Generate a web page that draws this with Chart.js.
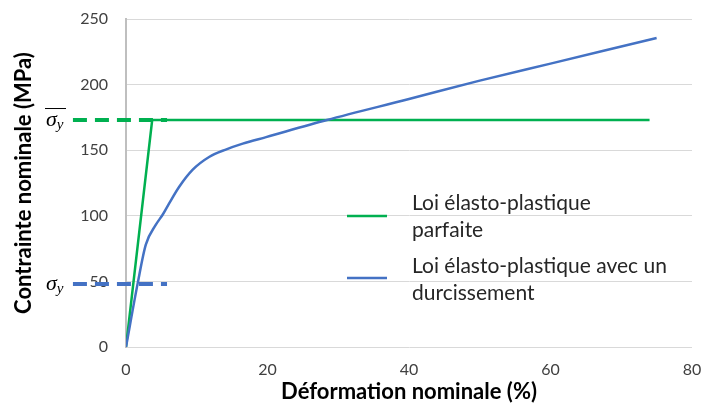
<!DOCTYPE html>
<html><head><meta charset="utf-8">
<script src="https://cdn.jsdelivr.net/npm/chart.js@4/dist/chart.umd.min.js"></script>
<style>html,body{margin:0;padding:0;background:#fff;overflow:hidden;}</style>
</head><body>
<canvas id="c" width="704" height="406" style="display:block;width:704px;height:406px"></canvas>
<script>
// ---- data ----
const xTickStep = 20;
const xRange = [0, 80];
const yTickStep = 50;
const yRange = [0, 250];
const legendLines = [['Loi élasto-plastique', 'parfaite'], ['Loi élasto-plastique avec un', 'durcissement']];
const xTitle = 'Déformation nominale (%)';
const yTitle = 'Contrainte nominale (MPa)';
const perfectX = [0, 3.7, 74];
const perfectY = [0, 173, 173];
const hardX = [0, 1.65, 2.8, 4.2, 5.2, 6.1, 7.5, 9.4, 11.8, 14.1, 16.5, 19.8, 28.4, 40, 50, 60, 75];
const hardY = [0, 48.5, 78, 93, 101, 109.5, 122, 135, 145, 150.5, 155, 160, 173, 189, 203, 216, 235.5];
const sigmaYBar = 173;   // limite élastique (loi parfaite)
const sigmaY = 48;       // limite élastique (loi avec durcissement)
const refLineX = [-7.5, 5.8];
const colors = ['#00b050', '#4472c4'];

const zip = (xs, ys) => xs.map((x, i) => ({x, y: ys[i]}));

const sigmaPlugin = {
  id: 'sigmaLabels',
  afterDatasetsDraw(chart) {
    const ctx = chart.ctx, y = chart.scales.y;
    const draw = (val, bar) => {
      const p = y.getPixelForValue(val);
      ctx.save();
      ctx.fillStyle = '#000';
      ctx.textBaseline = 'alphabetic';
      ctx.textAlign = 'left';
      ctx.font = 'italic 22px "Liberation Serif"';
      ctx.fillText('σ', 46, p + 6);
      const w = ctx.measureText('σ').width;
      ctx.font = 'italic 15px "Liberation Serif"';
      ctx.fillText('y', 46 + w, p + 9);
      if (bar) {
        ctx.strokeStyle = '#000';
        ctx.lineWidth = 1;
        ctx.beginPath();
        ctx.moveTo(45, p - 11.5);
        ctx.lineTo(66, p - 11.5);
        ctx.stroke();
      }
      ctx.restore();
    };
    draw(sigmaYBar, true);
    draw(sigmaY, false);
  }
};

const legendPlugin = {
  id: 'customLegend',
  afterDraw(chart) {
    const ctx = chart.ctx;
    const items = [{line: 216, text: [203, 230]}, {line: 278, text: [266, 293]}];
    ctx.save();
    items.forEach((it, i) => {
      ctx.strokeStyle = colors[i];
      ctx.lineWidth = 2.5;
      ctx.beginPath();
      ctx.moveTo(347, it.line);
      ctx.lineTo(387, it.line);
      ctx.stroke();
      ctx.fillStyle = '#262626';
      ctx.font = '21px Lato';
      ctx.textBaseline = 'middle';
      ctx.textAlign = 'left';
      legendLines[i].forEach((t, j) => ctx.fillText(t, 412, it.text[j]));
    });
    ctx.restore();
  }
};

new Chart(document.getElementById('c'), {
  type: 'line',
  data: {
    datasets: [
      {label: legendLines[0].join(' '), data: zip(perfectX, perfectY), borderColor: colors[0], borderWidth: 2.5, pointRadius: 0, tension: 0, order: 2},
      {label: legendLines[1].join(' '), data: zip(hardX, hardY), borderColor: colors[1], borderWidth: 2.5, pointRadius: 0, cubicInterpolationMode: 'monotone', order: 1},
      {label: 'σy barre', data: zip(refLineX, [sigmaYBar, sigmaYBar]), borderColor: colors[0], borderWidth: 4, borderDash: [14, 8], pointRadius: 0, clip: false, order: 0},
      {label: 'σy', data: zip(refLineX, [sigmaY, sigmaY]), borderColor: colors[1], borderWidth: 4, borderDash: [14, 8], pointRadius: 0, clip: false, order: 0}
    ]
  },
  options: {
    responsive: false,
    animation: false,
    devicePixelRatio: 1,
    layout: {padding: {left: 0, right: 12, top: 19, bottom: 0}},
    plugins: {legend: {display: false}, tooltip: {enabled: false}},
    scales: {
      x: {
        type: 'linear', min: xRange[0], max: xRange[1],
        ticks: {stepSize: xTickStep, color: '#404040', font: {family: 'Lato', size: 16}, padding: 13, maxRotation: 0},
        grid: {display: false, drawTicks: false},
        border: {display: false},
        title: {display: true, text: xTitle, color: '#000', font: {family: 'Lato', size: 22, weight: 'bold'}, padding: {top: 0, bottom: 1}},
        afterFit(s) { s.height = 59; s.paddingLeft = 0; s.paddingRight = 0; }
      },
      y: {
        min: yRange[0], max: yRange[1],
        ticks: {stepSize: yTickStep, color: '#404040', font: {family: 'Lato', size: 16}, padding: 18},
        grid: {color: '#d9d9d9', lineWidth: 1, drawTicks: false},
        border: {display: true, color: '#bfbfbf', width: 2},
        title: {display: true, text: yTitle, color: '#000', font: {family: 'Lato', size: 22, weight: 'bold'}, padding: {top: 11, bottom: 0}},
        afterFit(s) { s.width = 126; s.paddingTop = 0; s.paddingBottom = 0; }
      }
    }
  },
  plugins: [sigmaPlugin, legendPlugin]
});
</script>
</body></html>
